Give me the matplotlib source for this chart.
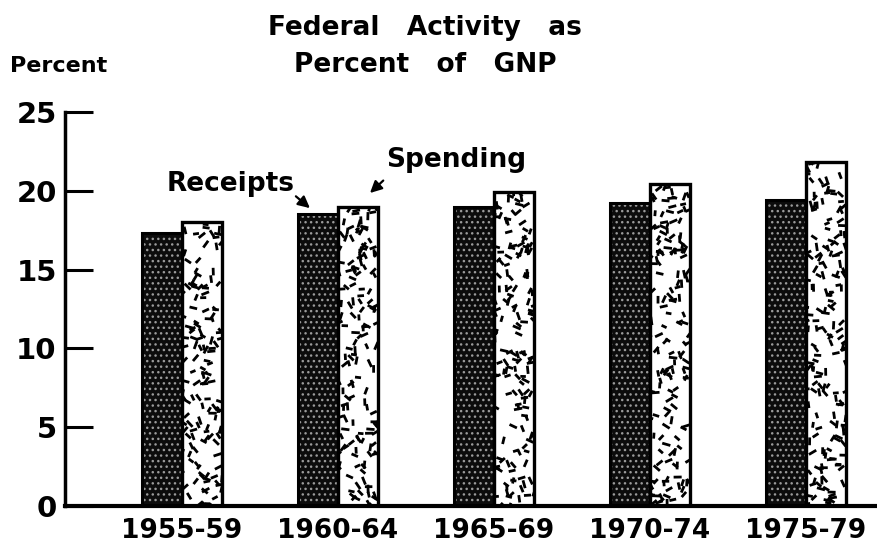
import numpy as np
import matplotlib
matplotlib.use("Agg")
import matplotlib.pyplot as plt
from matplotlib.collections import LineCollection

# ---- data ----
periods = ["1955-59", "1960-64", "1965-69", "1970-74", "1975-79"]
receipts = [17.3, 18.5, 19.0, 19.2, 19.4]
spending = [18.0, 19.0, 19.9, 20.4, 21.8]
yticks = [0, 5, 10, 15, 20, 25]

W, H = 877, 551
fig = plt.figure(figsize=(W / 100, H / 100), dpi=100)
ax = fig.add_axes([65 / W, 45 / H, (W - 65) / W, 394 / H])

x = np.arange(len(periods))
bw = 0.256
ax.set_xlim(-0.75, 4.455)
ax.set_ylim(0, 25)

# pixel scale helpers (for texture only)
px_x = (W - 65) / (4.455 + 0.75)
px_y = 394 / 25.0


def hsh(k, s):
    v = np.sin(k * 12.9898 + s * 78.233) * 43758.5453
    return v - np.floor(v)


plt.rcParams['hatch.linewidth'] = 1.0
# receipts: near-black with fine white dots
ax.bar(x - bw / 2, receipts, bw, color="#0c0c0c", edgecolor="#9a9a9a",
       hatch="...", linewidth=0, zorder=2)
ax.bar(x - bw / 2, receipts, bw, fill=False, edgecolor="black", linewidth=2.2, zorder=4)

# spending: white with scattered short dashes
sb = ax.bar(x + bw / 2, spending, bw, color="white", edgecolor="black",
            linewidth=2.4, zorder=3)
for j, rect in enumerate(sb):
    x0, w = rect.get_x(), rect.get_width()
    h = rect.get_height()
    wpx, hpx = w * px_x, h * px_y
    n = int(wpx * hpx / 80)
    segs = []
    for k in range(1, n + 1):
        u = hsh(k, j + 1.0)
        v = hsh(k, j + 7.3)
        ang = hsh(k, j + 3.1) * np.pi
        L = 5.5 + 3.0 * hsh(k, j + 5.7)
        cx = x0 + u * w
        cy = v * h
        dx = L / 2 * np.cos(ang) / px_x
        dy = L / 2 * np.sin(ang) / px_y
        segs.append([(cx - dx, cy - dy), (cx + dx, cy + dy)])
    lc = LineCollection(segs, colors="black", linewidths=2.0, zorder=3.5,
                        capstyle="butt")
    ax.add_collection(lc)
    lc.set_clip_path(rect)

# axes styling
for s in ["top", "right"]:
    ax.spines[s].set_visible(False)
ax.spines["left"].set_linewidth(2.5)
ax.spines["bottom"].set_linewidth(3.0)
ax.spines["left"].set_zorder(5)
ax.spines["bottom"].set_zorder(5)

ax.set_yticks(yticks)
ax.set_yticklabels([str(t) for t in yticks], fontsize=21, fontweight="bold",
                   family=["DejaVu Sans"])
ax.tick_params(axis="y", direction="in", length=20, width=2.2, pad=6)
ax.set_xticks(x)
ax.set_xticklabels(periods, fontsize=19, fontweight="bold", family=["DejaVu Sans"])
ax.tick_params(axis="x", length=0, pad=9)

# titles
tfont = ["DejaVu Sans"]
fig.text(0.485, 1 - 28 / H, "Federal   Activity   as", ha="center", va="center",
         fontsize=19, fontweight="bold", family=tfont)
fig.text(0.485, 1 - 65 / H, "Percent   of   GNP", ha="center", va="center",
         fontsize=19, fontweight="bold", family=tfont)
fig.text(10 / W, 1 - 66 / H, "Percent", ha="left", va="center",
         fontsize=16, fontweight="bold", family=tfont)

# annotations
ax.text(0.314, 20.4, "Receipts", ha="center", va="center",
        fontsize=19, fontweight="bold", family=["DejaVu Sans"], zorder=6)
ax.text(1.756, 21.95, "Spending", ha="center", va="center",
        fontsize=19, fontweight="bold", family=["DejaVu Sans"], zorder=6)
aprops = dict(arrowstyle="-|>,head_length=0.7,head_width=0.35",
              color="black", lw=1.6, shrinkA=0, shrinkB=0)
ax.annotate("", xy=(0.82, 18.9), xytext=(0.73, 19.65), arrowprops=aprops, zorder=6)
ax.annotate("", xy=(1.205, 19.86), xytext=(1.29, 20.65), arrowprops=aprops, zorder=6)

fig.savefig("out.png", dpi=100)
